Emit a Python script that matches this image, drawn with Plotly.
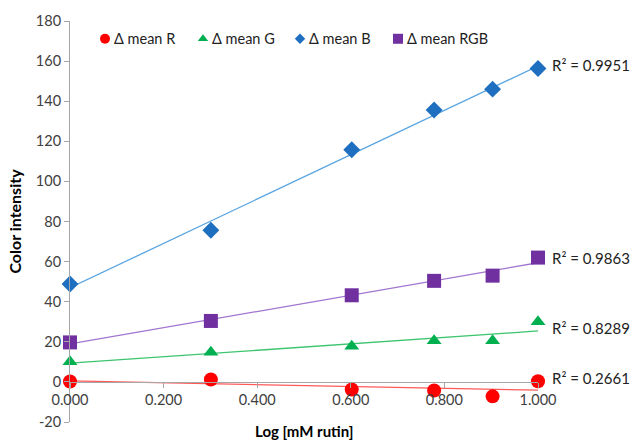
import numpy as np
import plotly.graph_objects as go

x_vals = [0.0, 0.301, 0.602, 0.778, 0.903, 1.0]
mean_R = [0.2, 1.2, -3.8, -4.3, -7.2, 0.3]
mean_G = [10.0, 14.8, 17.8, 20.5, 20.5, 30.0]
mean_B = [48.8, 75.6, 115.8, 135.6, 146.0, 156.3]
mean_RGB = [19.7, 30.4, 43.2, 50.4, 53.0, 62.0]
r2_labels = ["R² = 0.2661", "R² = 0.8289", "R² = 0.9951", "R² = 0.9863"]
names = ["Δ mean R", "Δ mean G", "Δ mean B", "Δ mean RGB"]
y_ticks = [-20, 0, 20, 40, 60, 80, 100, 120, 140, 160, 180]
y_ticktext = ["-20", "0", "20", "40", "60", "80", "100", "120", "140", "160", "180"]
x_ticks = [0.0, 0.2, 0.4, 0.6, 0.8, 1.0]

series = [mean_R, mean_G, mean_B, mean_RGB]
marker_colors = ["#FF0000", "#00B050", "#1F6FC0", "#7030A0"]
line_colors = ["#FF5A5A", "#3CC46E", "#5AA5E0", "#A075CF"]
symbols = ["circle", "triangle-up", "diamond", "square"]
sizes = [14, 13, 13, 14]
leg_sizes = [10, 9, 8, 10]
label_y = [2, 27, 158, 62]

# plot area in pixels
L, R, T, B = 70, 538, 16, 422
W, H = 632, 444
# legend layout (pixel positions)
leg_x = [105, 203, 300, 398]
leg_y = 34
leg_text_gap = 7

FONT = "Lato, Calibri, Open Sans, sans-serif"
fig = go.Figure()

for i, ys in enumerate(series):
    xs = np.array(x_vals)
    yv = np.array(ys)
    m, b = np.polyfit(xs, yv, 1)
    fx = np.array([0.0, 1.0])
    fig.add_trace(go.Scatter(x=fx, y=m * fx + b, mode="lines",
                             line=dict(color=line_colors[i], width=1.3),
                             showlegend=False, hoverinfo="skip"))

for i, ys in enumerate(series):
    fig.add_trace(go.Scatter(x=x_vals, y=ys, mode="markers", name=names[i],
                             showlegend=False, cliponaxis=False,
                             marker=dict(symbol=symbols[i], size=sizes[i],
                                         color=marker_colors[i], line=dict(width=0))))

# manual legend: symbols on a pixel-coordinate overlay axis
for i in range(4):
    fig.add_trace(go.Scatter(x=[leg_x[i]], y=[leg_y], mode="markers", name=names[i],
                             xaxis="x2", yaxis="y2", showlegend=False, hoverinfo="skip",
                             cliponaxis=False,
                             marker=dict(symbol=symbols[i], size=leg_sizes[i],
                                         color=marker_colors[i], line=dict(width=0))))
    fig.add_annotation(x=leg_x[i] + leg_text_gap, y=leg_y, xref="x2", yref="y2",
                       text=names[i], showarrow=False, xanchor="left", yanchor="middle",
                       font=dict(family=FONT, size=14.5, color="#222222"))

for i in range(4):
    fig.add_annotation(x=1.0, y=label_y[i], xref="x", yref="y", text=r2_labels[i],
                       showarrow=False, xanchor="left", xshift=12,
                       font=dict(family=FONT, size=15, color="#222222"))

fig.add_annotation(x=0.5, y=-0.022, xref="paper", yref="paper", yanchor="middle",
                   text="<b>Log [mM rutin]</b>", showarrow=False,
                   font=dict(family=FONT, size=15, color="#000000"))

fig.update_layout(
    width=W, height=H,
    margin=dict(l=L, r=W - R, t=T, b=H - B),
    paper_bgcolor="white", plot_bgcolor="white",
    font=dict(family=FONT, size=14, color="#404040"),
    showlegend=False,
    xaxis=dict(range=[0, 1.0], tickvals=x_ticks,
               tickformat=".3f", showgrid=False, zeroline=False,
               showline=True, linecolor="#A6A6A6", linewidth=1,
               ticks="outside", ticklen=5, tickcolor="#A6A6A6",
               anchor="free", position=0.1,
               tickfont=dict(family=FONT, size=14.5, color="#404040")),
    yaxis=dict(range=[-20, 180], tickvals=y_ticks, ticktext=y_ticktext,
               showgrid=False, zeroline=False,
               showline=True, linecolor="#A6A6A6", linewidth=1,
               ticks="outside", ticklen=5, tickcolor="#A6A6A6",
               title=dict(text="<b>Color intensity</b>", standoff=10,
                          font=dict(family=FONT, size=16, color="#000000")),
               tickfont=dict(family=FONT, size=14.5, color="#404040")),
    xaxis2=dict(range=[L, R], overlaying="x", visible=False, anchor="y2"),
    yaxis2=dict(range=[B, T], overlaying="y", visible=False, anchor="x2"),
)

fig.write_html("out.html")
